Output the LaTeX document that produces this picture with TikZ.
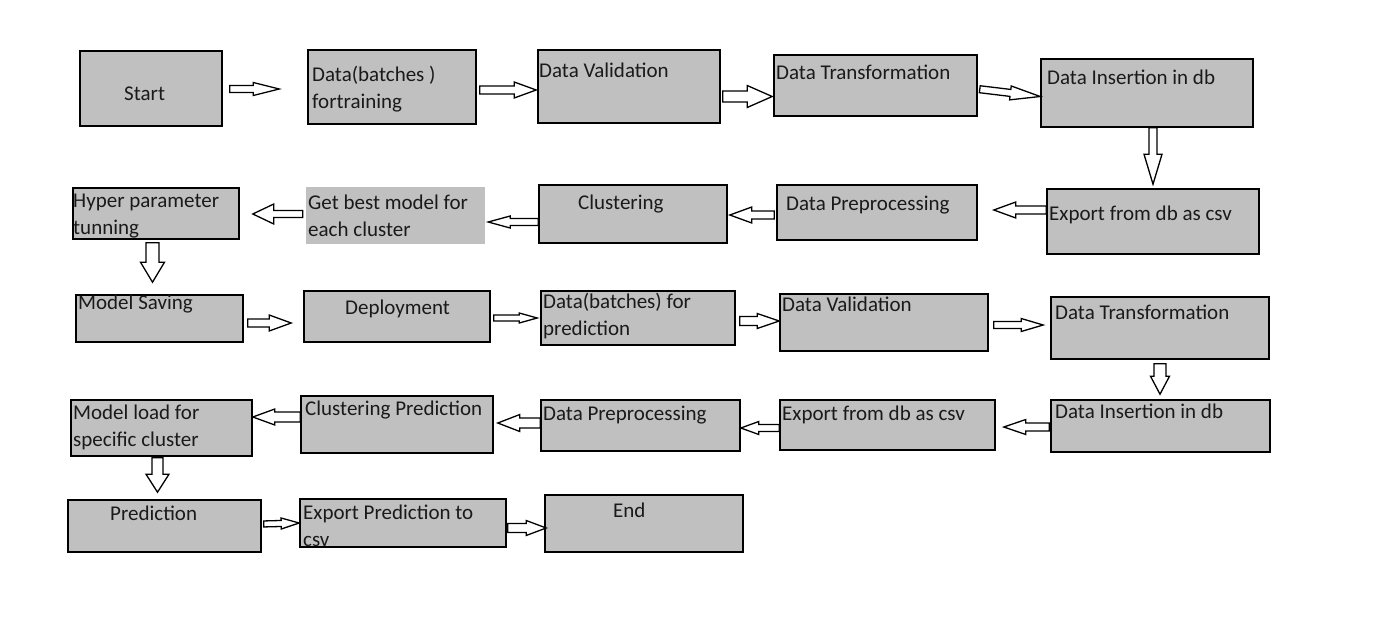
\documentclass[tikz,border=0pt]{standalone}
\usepackage{fontspec}
\setmainfont{Carlito}
\usetikzlibrary{calc}

\definecolor{boxgray}{HTML}{C0C0C0}
\definecolor{inkblack}{HTML}{1A1A1A}

\tikzset{
  procbox/.style={draw=black, line width=1.6pt, fill=boxgray, inner sep=0pt},
  plainbox/.style={fill=boxgray, inner sep=0pt},
  boxtext/.style={font=\fontsize{21}{27}\selectfont, text=inkblack, inner sep=0pt,
    anchor=base west, align=left},
  blockarrow/.style={draw=black, fill=white, line width=1.3pt, line join=miter},
  arrow shaft/.store in=\arrshaft, arrow head/.store in=\arrhead,
  arrow len/.store in=\arrlen,
  arrow shaft=4pt, arrow head=8pt, arrow len=22pt,
  big arrow/.style={arrow shaft=5.5pt, arrow head=11pt, arrow len=21pt}
}

% hollow block arrow: [size], from, to, gap at tail, gap at tip
\newcommand{\flowarrow}[5][]{%
  \begin{scope}[#1]
    \coordinate (fa-s) at ($(#2)!#4pt!(#3)$);
    \coordinate (fa-t) at ($(#3)!#5pt!(#2)$);
    \coordinate (fa-m) at ($(fa-t)!\arrlen!(fa-s)$);
    \draw[blockarrow] ($(fa-s)!\arrshaft!90:(fa-t)$) -- ($(fa-m)!\arrshaft!90:(fa-t)$)
      -- ($(fa-m)!\arrhead!90:(fa-t)$) -- (fa-t) -- ($(fa-m)!\arrhead!-90:(fa-t)$)
      -- ($(fa-m)!\arrshaft!-90:(fa-t)$) -- ($(fa-s)!\arrshaft!-90:(fa-t)$) -- cycle;
  \end{scope}}

\begin{document}
\begin{tikzpicture}[x=1pt,y=-1pt]
  \useasboundingbox (0,0) rectangle (1393,627);

  % training pipeline
  \node[procbox, minimum width=142, minimum height=75] (start) at (151,88.5) {};
  \node[procbox, minimum width=168, minimum height=74] (trainbatch) at (392,87) {};
  \node[procbox, minimum width=182, minimum height=73] (trainval) at (629,86.5) {};
  \node[procbox, minimum width=203, minimum height=61] (traintrans) at (875.5,85.5) {};
  \node[procbox, minimum width=212, minimum height=68] (traininsert) at (1147,93) {};
  \node[procbox, minimum width=212, minimum height=65] (trainexport) at (1153,221.5) {};
  \node[procbox, minimum width=200, minimum height=55] (trainprep) at (877,212.5) {};
  \node[procbox, minimum width=188, minimum height=58] (cluster) at (633,214) {};
  \node[plainbox, minimum width=179, minimum height=57] (bestmodel) at (395.5,215.5) {};
  \node[procbox, minimum width=166, minimum height=51] (hyper) at (156,213.5) {};
  \node[procbox, minimum width=167, minimum height=47] (saving) at (159.5,318.5) {};
  \node[procbox, minimum width=186, minimum height=51] (deploy) at (397,316.5) {};

  % prediction pipeline
  \node[procbox, minimum width=194, minimum height=54] (predbatch) at (638,318) {};
  \node[procbox, minimum width=208, minimum height=57] (predval) at (884,322.5) {};
  \node[procbox, minimum width=218, minimum height=62] (predtrans) at (1160,328) {};
  \node[procbox, minimum width=219, minimum height=52] (predinsert) at (1160.5,426) {};
  \node[procbox, minimum width=215, minimum height=50] (predexport) at (887.5,425) {};
  \node[procbox, minimum width=199, minimum height=51] (predprep) at (640.5,425.5) {};
  \node[procbox, minimum width=192, minimum height=57] (clusterpred) at (397,424.5) {};
  \node[procbox, minimum width=181, minimum height=56] (modelload) at (161.5,428) {};
  \node[procbox, minimum width=193, minimum height=52] (predict) at (164.5,526) {};
  \node[procbox, minimum width=206, minimum height=48] (exportpred) at (403,523) {};
  \node[procbox, minimum width=198, minimum height=57] (stop) at (644,523.5) {};

  % labels (two-line labels sit on their last line)
  \node[boxtext] (start-t) at (124,100) {Start};
  \node[boxtext] (trainbatch-t) at (312,108) {Data(batches )\\fortraining};
  \node[boxtext] (trainval-t) at (539,77) {Data Validation};
  \node[boxtext] (traintrans-t) at (776,79) {Data Transformation};
  \node[boxtext] (traininsert-t) at (1047,84) {Data Insertion in db};
  \node[boxtext] (trainexport-t) at (1049,220) {Export from db as csv};
  \node[boxtext] (trainprep-t) at (786,210) {Data Preprocessing};
  \node[boxtext] (cluster-t) at (578,209) {Clustering};
  \node[boxtext] (bestmodel-t) at (308,236) {Get best model for\\each cluster};
  \node[boxtext] (hyper-t) at (73,234) {Hyper parameter\\tunning};
  \node[boxtext] (saving-t) at (78,309) {Model Saving};
  \node[boxtext] (deploy-t) at (345,314) {Deployment};
  \node[boxtext] (predbatch-t) at (543,335) {Data(batches) for\\prediction};
  \node[boxtext] (predval-t) at (782,311) {Data Validation};
  \node[boxtext] (predtrans-t) at (1055,319) {Data Transformation};
  \node[boxtext] (predinsert-t) at (1055,418) {Data Insertion in db};
  \node[boxtext] (predexport-t) at (782,420) {Export from db as csv};
  \node[boxtext] (predprep-t) at (543,420) {Data Preprocessing};
  \node[boxtext] (clusterpred-t) at (305,415) {Clustering Prediction};
  \node[boxtext] (modelload-t) at (73,446) {Model load for\\specific cluster};
  \node[boxtext] (predict-t) at (110,520) {Prediction};
  \node[boxtext] (exportpred-t) at (303,546) {Export Prediction to\\csv};
  \node[boxtext] (stop-t) at (613,517) {End};

  % arrows
  \flowarrow[arrow shaft=3.5pt, arrow head=6.5pt, arrow len=26pt]{[yshift=-0.5]start.east}{[yshift=-2]trainbatch.west}{7}{28}
  \flowarrow{[yshift=-3]trainbatch.east}{[yshift=-3.5]trainval.west}{3}{1}
  \flowarrow[big arrow, arrow len=25pt]{[yshift=-10]trainval.east}{[yshift=-11]traintrans.west}{2}{1}
  \flowarrow[arrow shaft=3.5pt, arrow head=7pt, arrow len=30pt]{[yshift=-3.5]traintrans.east}{[yshift=-3.5]traininsert.west}{2}{0}
  \flowarrow[arrow head=9pt, arrow len=30pt]{[xshift=6]traininsert.south}{trainexport.north}{0}{4}
  \flowarrow{[yshift=11.5]trainexport.west}{[yshift=2.5]trainprep.east}{0}{16}
  \flowarrow{[yshift=-2.5]trainprep.west}{[yshift=-1]cluster.east}{2}{2}
  \flowarrow[arrow shaft=3.5pt, arrow head=6pt]{[yshift=-8]cluster.west}{[yshift=-6.5]bestmodel.east}{0}{3}
  \flowarrow[arrow shaft=3.5pt, arrow head=10pt, arrow len=21pt]{[yshift=1.5]bestmodel.west}{[yshift=-0.5]hyper.east}{3}{13}
  \flowarrow[arrow shaft=6.5pt, arrow head=12pt, arrow len=20pt]{[xshift=-3.5]hyper.south}{[xshift=-7]saving.north}{3}{12}
  \flowarrow{[yshift=-4.5]saving.east}{[yshift=-6.5]deploy.west}{4}{12}
  \flowarrow[arrow shaft=3pt, arrow head=5pt, arrow len=18pt]{[yshift=-1.5]deploy.east}{predbatch.west}{3}{3}
  \flowarrow[arrow shaft=4.5pt, arrow head=7.5pt]{[yshift=-3]predbatch.east}{[yshift=1.5]predval.west}{4}{0}
  \flowarrow[arrow shaft=3.5pt, arrow head=6.5pt]{[yshift=-2.5]predval.east}{[yshift=3]predtrans.west}{5}{7}
  \flowarrow[arrow shaft=6pt, arrow head=9.5pt, arrow len=18pt]{predtrans.south}{[xshift=-0.5]predinsert.north}{4}{5}
  \flowarrow[arrow head=7.5pt]{[yshift=-1]predinsert.west}{[yshift=-2]predexport.east}{1}{8}
  \flowarrow[arrow shaft=3.5pt, arrow head=6.5pt, arrow len=18pt]{[yshift=-3]predexport.west}{[yshift=-2.5]predprep.east}{0}{0}
  \flowarrow[arrow shaft=5pt, arrow head=8.5pt]{[yshift=2.5]predprep.west}{[yshift=1.5]clusterpred.east}{0}{4}
  \flowarrow[arrow shaft=5pt, arrow head=8pt]{[yshift=7.5]clusterpred.west}{[yshift=11]modelload.east}{0}{0}
  \flowarrow[arrow shaft=5.5pt, arrow head=11.5pt, arrow len=18pt]{[xshift=-4]modelload.south}{[xshift=-7]predict.north}{1}{7}
  \flowarrow[arrow shaft=3pt, arrow head=5.5pt, arrow len=18pt]{[yshift=2]predict.east}{exportpred.west}{2}{0}
  \flowarrow[arrow shaft=4.5pt, arrow head=7.5pt, arrow len=20pt]{[yshift=-5]exportpred.east}{[yshift=-4.5]stop.west}{1}{-2}
\end{tikzpicture}
\end{document}
